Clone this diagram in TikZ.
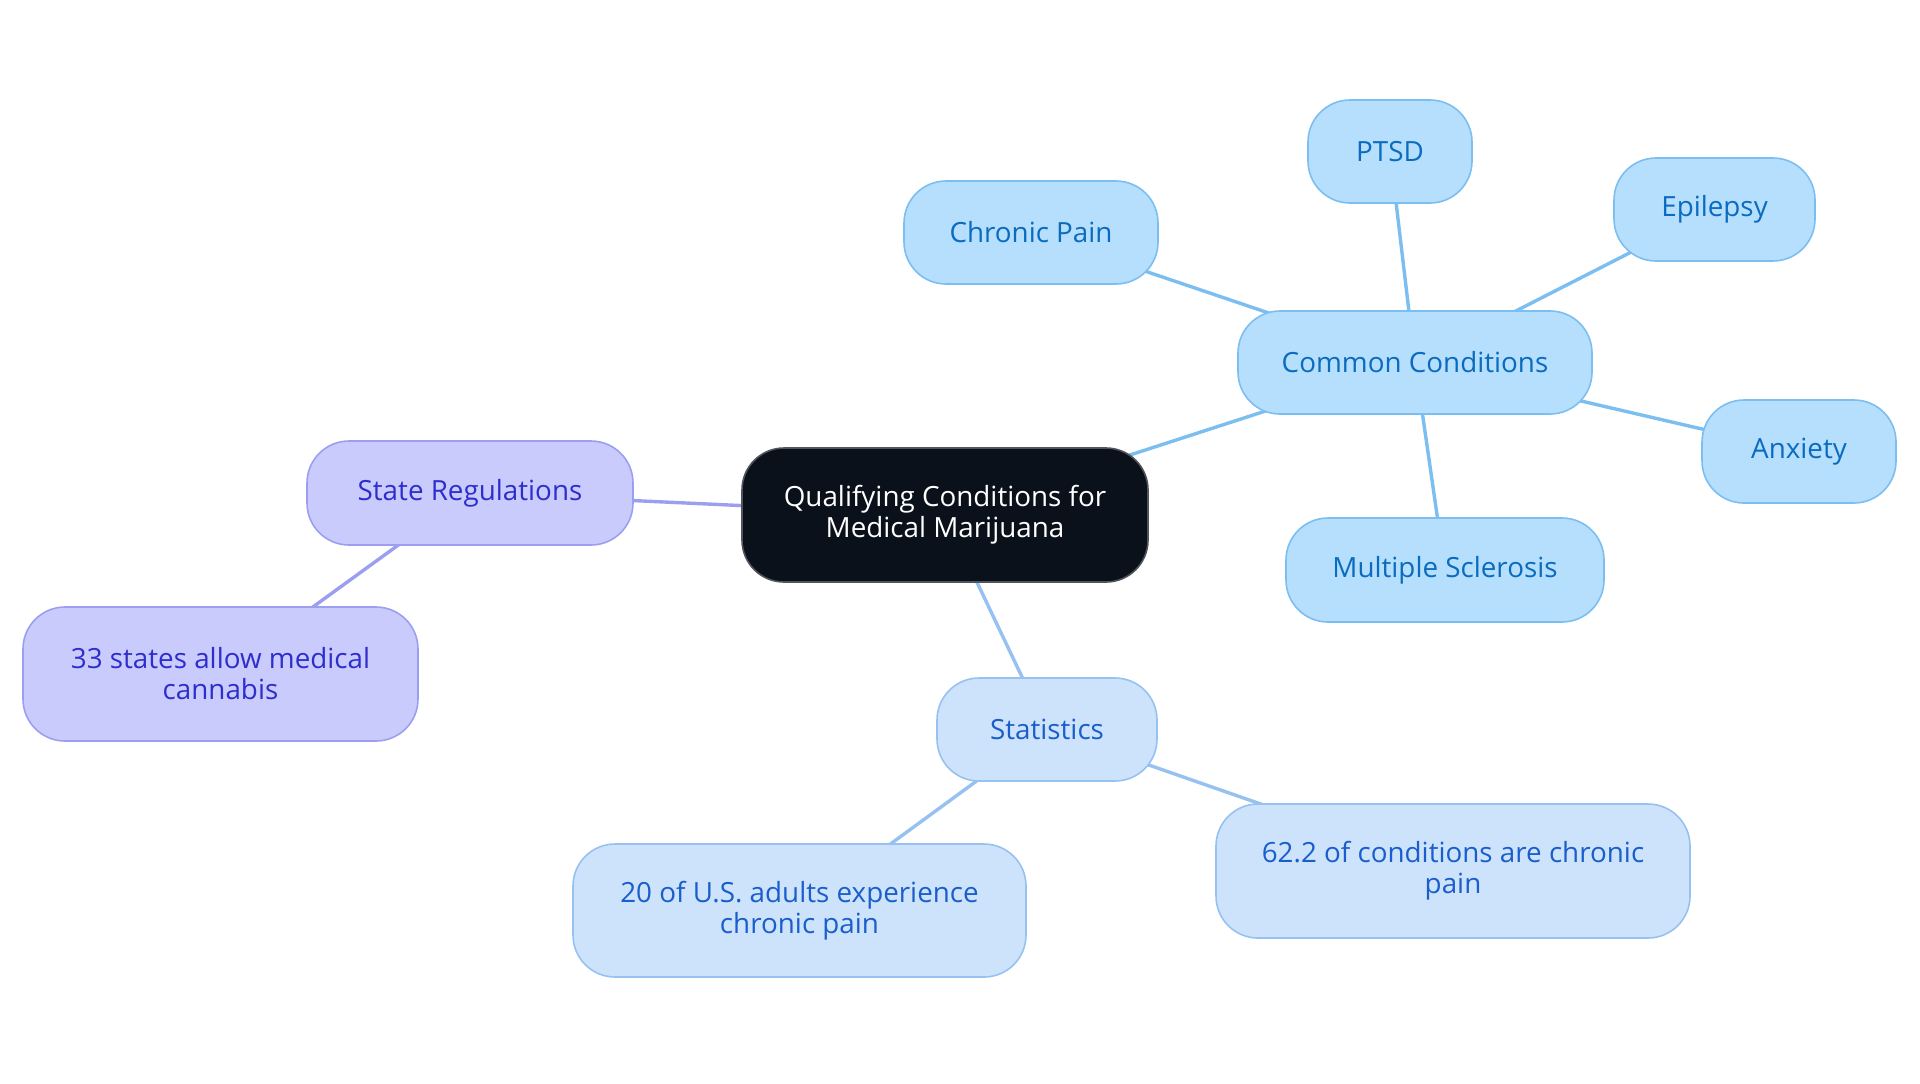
\documentclass[tikz,border=0pt]{standalone}
\usepackage{fontspec}
\setmainfont{Open Sans}
\usetikzlibrary{backgrounds}
\definecolor{rootfill}{HTML}{0B111B}
\definecolor{rootline}{HTML}{50555C}
\definecolor{cfill}{HTML}{B5DFFD}
\definecolor{cline}{HTML}{7DBEF0}
\definecolor{ctext}{HTML}{0A6BBF}
\definecolor{sfill}{HTML}{CDE3FB}
\definecolor{sline}{HTML}{96C1F0}
\definecolor{stext}{HTML}{1A5ECC}
\definecolor{rfill}{HTML}{C9CBFC}
\definecolor{rline}{HTML}{9C9FF0}
\definecolor{rtext}{HTML}{2E2ECC}

\begin{document}
\begin{tikzpicture}[
    x=0.5pt, y=-0.5pt,
    box/.style={rectangle, rounded corners=21pt, align=center, inner sep=0pt,
      line width=0.8pt, font=\fontsize{13.9}{15.5}\selectfont},
    root/.style={box, fill=rootfill, draw=rootline, text=white},
    cond/.style={box, fill=cfill, draw=cline, text=ctext},
    stat/.style={box, fill=sfill, draw=sline, text=stext},
    reg/.style={box, fill=rfill, draw=rline, text=rtext},
    link/.style={line width=1.7pt}
  ]
    \useasboundingbox (0,0) rectangle (1920,1083);

    \node[root, minimum width=203pt, minimum height=67pt] (q) at (945,515) {Qualifying Conditions for\\Medical Marijuana};

    \node[cond, minimum width=177pt, minimum height=51.5pt] (cc) at (1415,362.5) {Common Conditions};
    \node[cond, minimum width=127pt, minimum height=51.5pt] (cp) at (1031,232.5) {Chronic Pain};
    \node[cond, minimum width=82pt, minimum height=51.5pt] (pt) at (1390,151.5) {PTSD};
    \node[cond, minimum width=100.5pt, minimum height=51.5pt] (ep) at (1714.5,209.5) {Epilepsy};
    \node[cond, minimum width=97pt, minimum height=51.5pt] (an) at (1799,451.5) {Anxiety};
    \node[cond, minimum width=159pt, minimum height=52pt] (ms) at (1445,570) {Multiple Sclerosis};

    \node[reg, minimum width=163pt, minimum height=52pt] (sr) at (470,493) {State Regulations};
    \node[reg, minimum width=197.5pt, minimum height=67pt] (st) at (220.5,674) {33 states allow medical\\cannabis};

    \node[stat, minimum width=110pt, minimum height=51.5pt] (s) at (1047,729.5) {Statistics};
    \node[stat, minimum width=226.5pt, minimum height=66.5pt] (ua) at (799.5,910.5) {20 of U.S. adults experience\\chronic pain};
    \node[stat, minimum width=237pt, minimum height=67pt] (cn) at (1453,871) {62.2 of conditions are chronic\\pain};

    \begin{scope}[on background layer]
      \draw[link, cline] (q.center)--(cc.center) (cc.center)--(cp.center) (cc.center)--(pt.center)
        (cc.center)--(ep.center) (cc.center)--(an.center) (cc.center)--(ms.center);
      \draw[link, rline] (q.center)--(sr.center) (sr.center)--(st.center);
      \draw[link, sline] (q.center)--(s.center) (s.center)--(ua.center) (s.center)--(cn.center);
    \end{scope}
  \end{tikzpicture}
\end{document}
